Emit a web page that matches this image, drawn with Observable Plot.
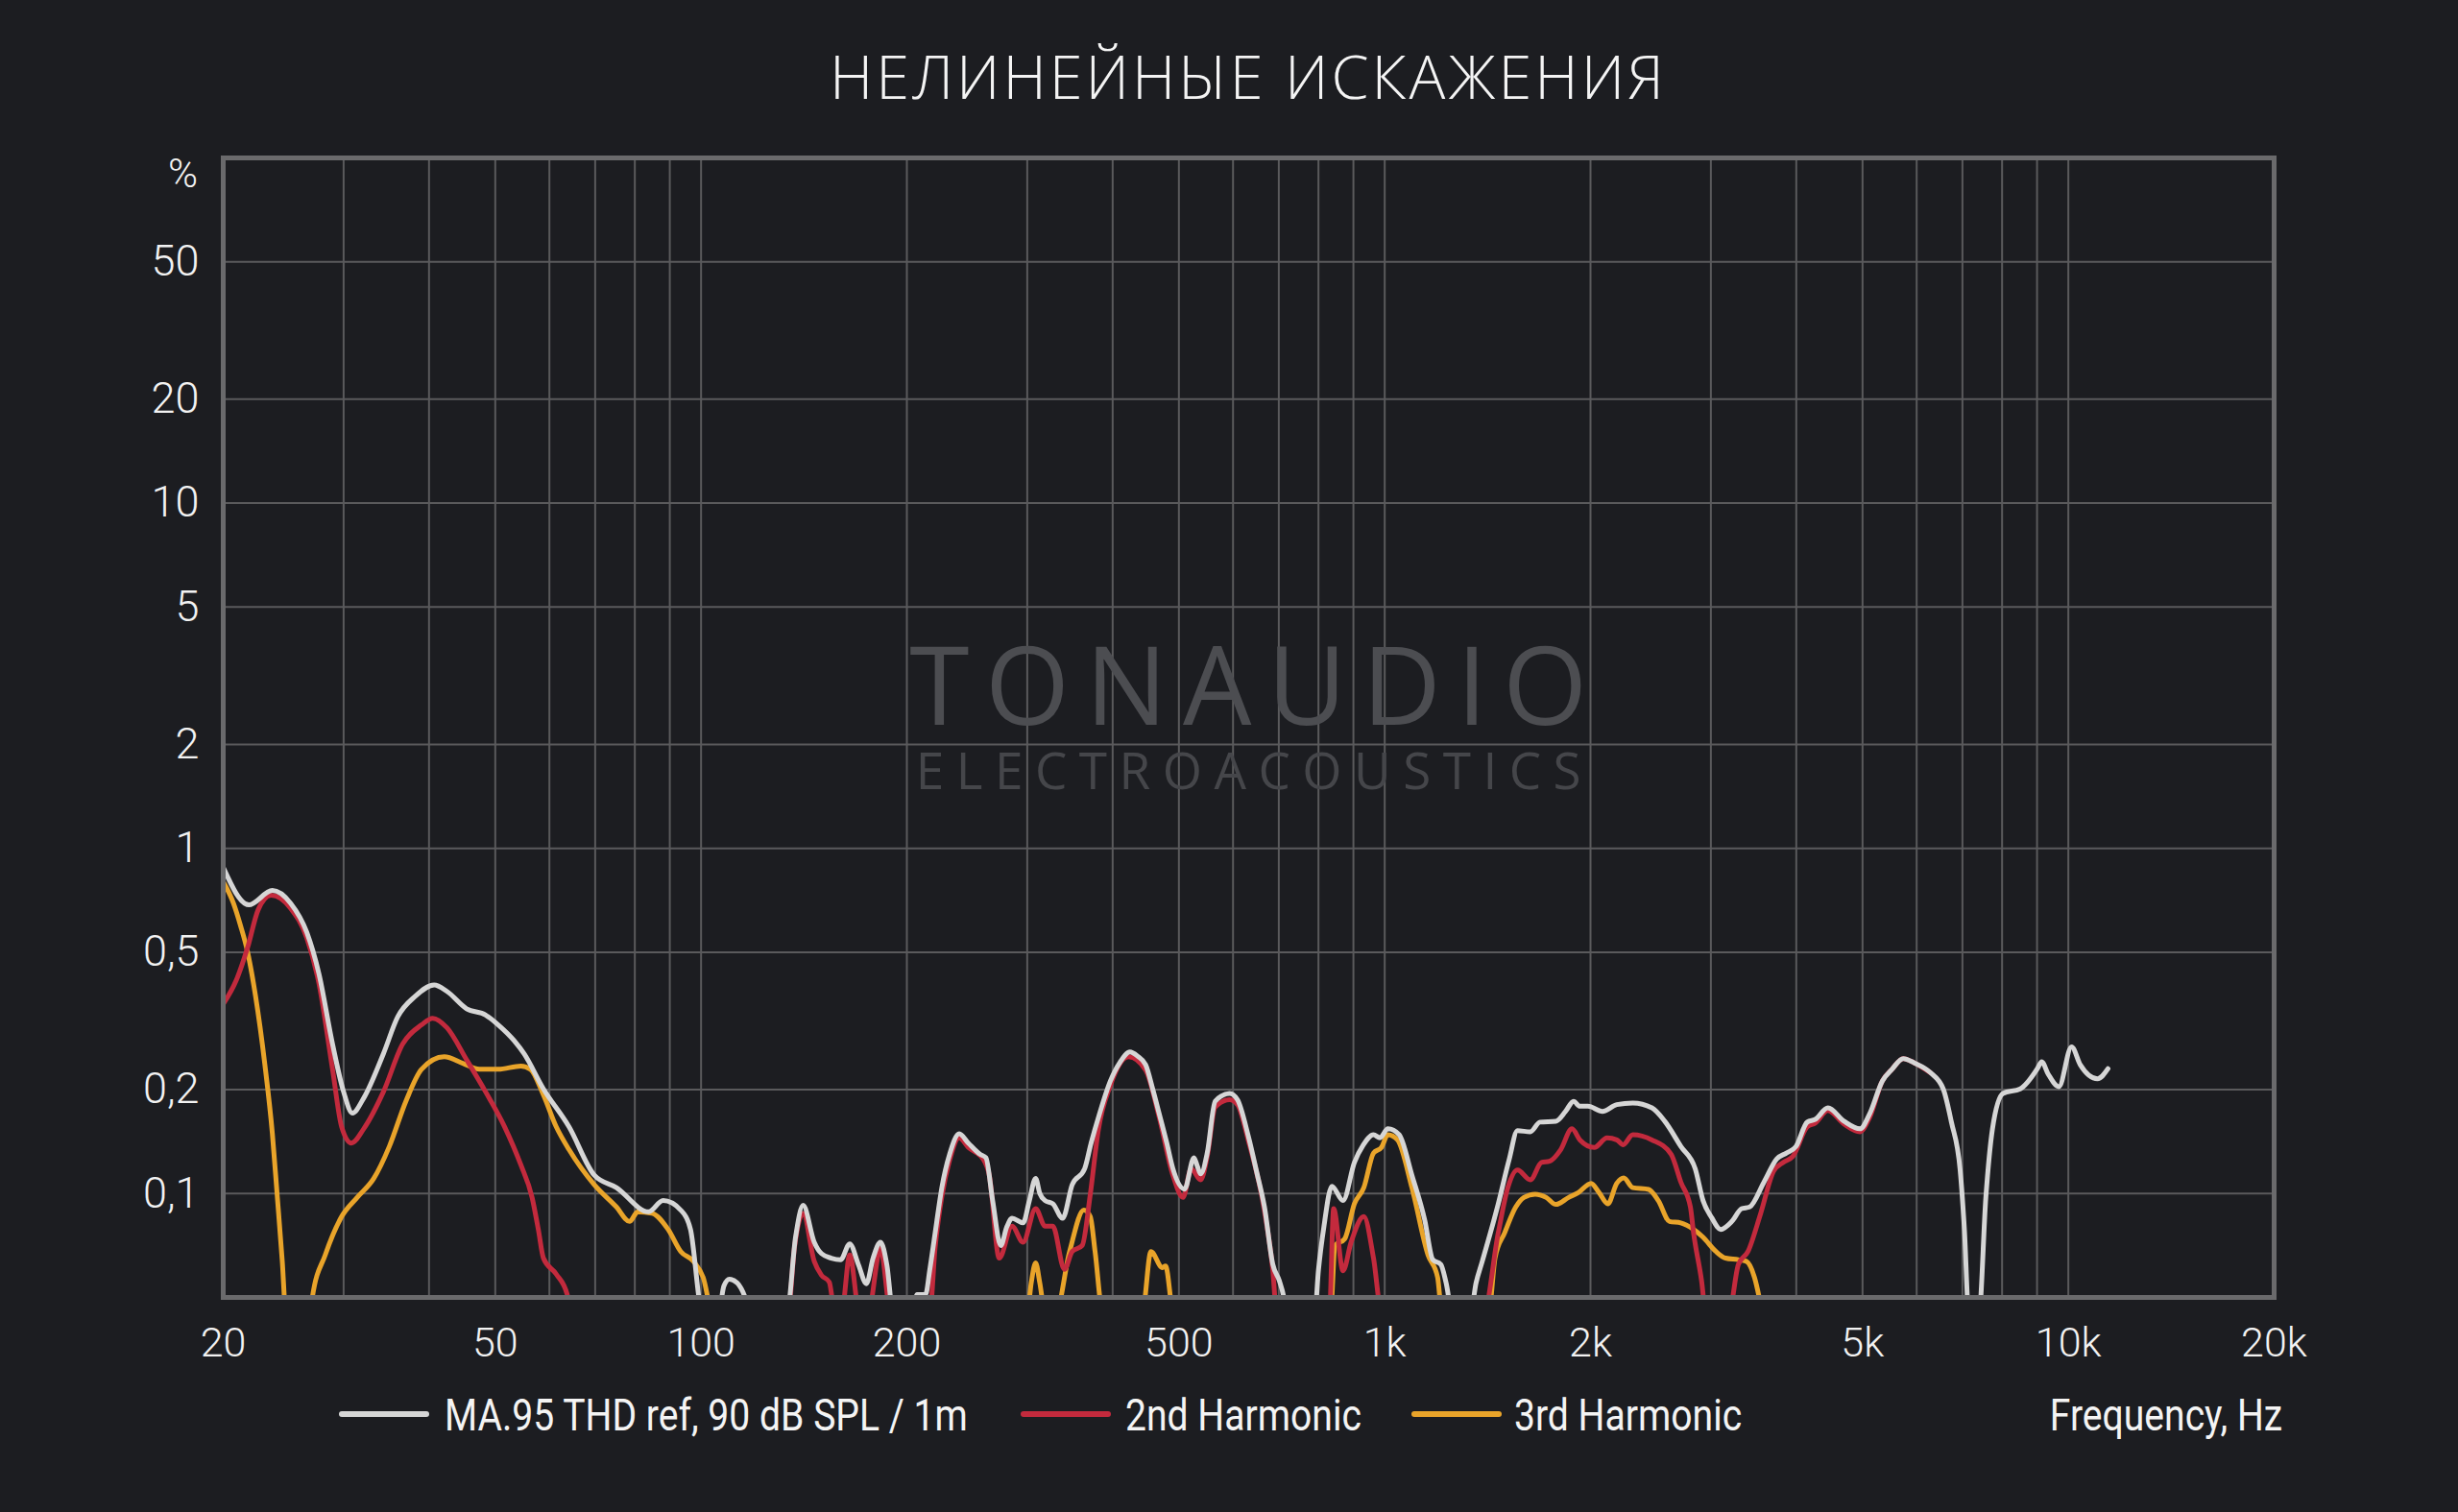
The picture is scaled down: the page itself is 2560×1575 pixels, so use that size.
<!DOCTYPE html>
<html><head><meta charset="utf-8">
<script src="https://cdn.jsdelivr.net/npm/d3@7"></script>
<script src="https://cdn.jsdelivr.net/npm/@observablehq/plot@0.6"></script>
<style>
html,body{margin:0;padding:0;background:#1c1d21;}
#wrap{position:relative;width:2560px;height:1575px;background:#1c1d21;overflow:hidden;font-family:Roboto,sans-serif;color:#f2f2f2;}
#title{position:absolute;left:0;width:2600px;top:47px;text-align:center;font-family:"Open Sans",sans-serif;font-weight:300;font-size:63px;line-height:63px;letter-spacing:3px;color:#f4f4f4;white-space:nowrap;}
#chart{position:absolute;left:0;top:140px;}
.sw{position:absolute;top:1470px;height:6px;border-radius:3px;}
.lt{position:absolute;top:1451px;font-size:46px;line-height:46px;font-weight:400;transform:scaleX(0.85);transform-origin:left center;white-space:nowrap;color:#f4f4f4;}
</style></head>
<body><div id="wrap">
<div id="title">НЕЛИНЕЙНЫЕ ИСКАЖЕНИЯ</div>
<div id="chart"></div>
<div id="legend"></div>
</div>
<script>
// ---- data ----
const thdFreq = [20,21.8,23.6,25.1,26.5,27.6,28.9,30.0,30.9,32.1,34.3,36.0,38.2,40.7,42.5,45.4,48.4,50.5,53.3,55.1,58.8,64.1,69.8,75.2,83.8,88.0,93.4,96.5,100.5,
  106,108,110,113,116,118,
  133.5,137.5,141,146.4,150,155,160,165,170,174.5,178.5,183,187,191,
  204,207,213,216,220,225,231,238.6,246,255.8,261,267,274.4,280,285,295.8,302,308.6,313,318.6,327,338,349,364,372,382.6,397,410,424,435,447,458,468,480,490,509.6,526,532,538,550,565,593,609,632,650,667,686,701,712,718,
  790,800,815,837,869,903,930,963,984,1011,1050,1096,1144,1176,1208,1230,1256,
  1335,1360,1389,1466,1520,1564,1633,1687,1780,1839,1889,1930,1983,2082,2185,2306,2460,2568,2711,2846,2922,3010,3101,3220,3327,3418,3588,3746,3869,3997,4150,4263,4450,4697,4958,5120,5346,5521,5734,5953,6284,6561,6745,6946,7047,7150,
  7400,7576,7745,8026,8506,9010,9141,9342,9685,10110,10410,11030,11430];
const thdVal = [0.88,0.686,0.755,0.693,0.571,0.434,0.271,0.197,0.171,0.189,0.254,0.325,0.373,0.402,0.385,0.343,0.329,0.308,0.277,0.254,0.201,0.156,0.113,0.104,0.0885,0.0954,0.0895,0.0787,0.045,
  0.045,0.054,0.0565,0.055,0.05,0.045,
  0.045,0.075,0.0924,0.0723,0.067,0.065,0.0643,0.0715,0.062,0.0548,0.065,0.0723,0.062,0.045,
  0.045,0.051,0.051,0.06,0.077,0.104,0.13,0.149,0.14,0.13,0.127,0.0954,0.0707,0.08,0.0848,0.0822,0.095,0.1107,0.1,0.0954,0.0934,0.0848,0.106,0.118,0.14,0.17,0.212,0.24,0.257,0.25,0.236,0.2,0.17,0.14,0.118,0.103,0.127,0.12,0.114,0.131,0.185,0.195,0.187,0.146,0.115,0.0914,0.0623,0.056,0.05,0.045,
  0.045,0.06,0.0804,0.105,0.0954,0.123,0.138,0.148,0.145,0.154,0.148,0.113,0.084,0.0643,0.0623,0.055,0.045,
  0.045,0.055,0.0636,0.0934,0.125,0.152,0.151,0.161,0.162,0.173,0.185,0.179,0.179,0.173,0.181,0.183,0.177,0.162,0.137,0.118,0.0954,0.085,0.0787,0.083,0.0904,0.0914,0.108,0.126,0.131,0.137,0.161,0.164,0.177,0.162,0.154,0.17,0.212,0.229,0.246,0.239,0.224,0.201,0.161,0.117,0.0785,0.045,
  0.045,0.0982,0.154,0.195,0.201,0.23,0.241,0.222,0.204,0.266,0.236,0.215,0.23];

const h2Freq = [20,20.9,21.7,22.5,23.5,25.1,26.5,27.6,28.9,29.8,30.8,32.1,34.3,36.6,39.0,40.5,42.5,45.4,48.4,51.6,54.5,56.6,57.8,58.8,61.4,63.7,64.5,
  134,137,141,146.4,150,154,157,160.5,165,170.5,175.5,183,189.5,
  216,220,225,231,238.6,246,258.5,264,273,285,295.8,308.6,318.6,327,340,349,361,371,381,397,422,447,468,490,507,521,538,550,565,593,609,632,667,686,695,
  830,842,869,893,932,963,990,
  1395,1466,1514,1564,1633,1696,1742,1809,1879,1930,2026,2115,2185,2233,2306,2460,2624,2711,2800,2830,2907,2950,
  3186,3291,3399,3548,3705,3826,3953,4150,4263,4450,4697,4958,5120,5346,5521,5734,5953,6284];
const h2Val = [0.354,0.415,0.514,0.664,0.731,0.67,0.55,0.407,0.229,0.156,0.14,0.154,0.197,0.271,0.308,0.322,0.302,0.244,0.197,0.156,0.121,0.0974,0.0787,0.065,0.0584,0.051,0.045,
  0.045,0.07,0.0876,0.0636,0.058,0.0554,0.045,0.045,0.0664,0.045,0.045,0.0693,0.045,
  0.045,0.07,0.098,0.125,0.145,0.136,0.126,0.113,0.065,0.0804,0.0723,0.0904,0.0804,0.0804,0.0603,0.0679,0.0707,0.0996,0.152,0.206,0.249,0.228,0.166,0.113,0.0974,0.118,0.1096,0.128,0.178,0.187,0.181,0.142,0.089,0.06,0.045,
  0.045,0.0904,0.0597,0.0723,0.0857,0.065,0.045,
  0.045,0.077,0.104,0.117,0.1096,0.123,0.124,0.134,0.154,0.143,0.136,0.145,0.143,0.1385,0.148,0.143,0.13,0.108,0.0914,0.077,0.056,0.045,
  0.045,0.0623,0.0679,0.0876,0.116,0.123,0.128,0.156,0.16,0.174,0.159,0.151,0.166,0.212,0.229,0.246,0.239,0.224];

const h3Freq = [20,20.7,21.2,21.7,22.3,23.0,23.6,24.0,24.4,24.7,
  26.8,27.0,28.2,29.8,31.4,33.2,35.0,37.0,39.0,42.1,44.9,47.4,50.5,54.5,56.3,58.8,61.4,64.1,69.8,75.2,78.6,80.8,84.8,89.5,93.4,97.5,100.7,104,
  300,304,308.6,313,318.6,
  330,346,363,371,377,387,
  442,455,473,478,491,
  833,846,874,903,932,963,989,1011,1044,1096,1157,1195,1213,
  1419,1450,1498,1555,1598,1660,1723,1780,1858,1919,2004,2059,2120,2185,2237,2306,2433,2513,2610,2711,2830,2922,3052,3152,3291,3381,3474,3568];
const h3Val = [0.80,0.693,0.597,0.503,0.373,0.238,0.149,0.0974,0.0636,0.045,
  0.045,0.05,0.0664,0.0857,0.0974,0.1105,0.137,0.185,0.229,0.249,0.238,0.229,0.229,0.234,0.229,0.193,0.156,0.134,0.106,0.0914,0.083,0.0885,0.0876,0.0787,0.0679,0.0636,0.0572,0.045,
  0.045,0.055,0.063,0.055,0.045,
  0.045,0.0679,0.0895,0.0857,0.0679,0.045,
  0.045,0.0679,0.061,0.0617,0.045,
  0.045,0.0707,0.0739,0.0934,0.104,0.131,0.136,0.148,0.143,0.104,0.0664,0.0572,0.045,
  0.045,0.065,0.077,0.0914,0.0974,0.0996,0.0974,0.093,0.0974,0.1006,0.107,0.1006,0.0934,0.107,0.111,0.104,0.1028,0.0954,0.083,0.0822,0.0787,0.0747,0.0679,0.065,0.0643,0.0636,0.0572,0.045];

const xTicks = [20,50,100,200,500,1000,2000,5000,10000,20000];
const xTickLabels = ["20","50","100","200","500","1k","2k","5k","10k","20k"];
const yTicks = [50,20,10,5,2,1,0.5,0.2,0.1];
const yTickLabels = ["50","20","10","5","2","1","0,5","0,2","0,1"];
const xGrid = [30,40,50,60,70,80,90,100,200,300,400,500,600,700,800,900,1000,2000,3000,4000,5000,6000,7000,8000,9000,10000];
const yGrid = [50,20,10,5,2,1,0.5,0.2,0.1];
const seriesNames = ["MA.95 THD ref, 90 dB SPL / 1m","2nd Harmonic","3rd Harmonic"];
const seriesColors = ["#d6d6d6","#c32a3d","#e9a42a"];
const watermark = ["TONAUDIO","ELECTROACOUSTICS"];

// ---- build ----
const toRows = (fs, vs) => fs.map((f, i) => ({f, v: vs[i]}));
const thd = toRows(thdFreq, thdVal), h2 = toRows(h2Freq, h2Val), h3 = toRows(h3Freq, h3Val);
const lineOpts = (c) => ({x: "f", y: "v", stroke: c, strokeWidth: 5, curve: "monotone-x", clip: true, strokeLinejoin: "round", strokeLinecap: "round"});

const chart = Plot.plot({
  width: 2560, height: 1290,
  marginTop: 24, marginLeft: 232, marginRight: 192, marginBottom: 79,
  style: {background: "transparent", color: "#f2f2f2", fontFamily: "Roboto, sans-serif", fontSize: "44px", fontWeight: 300},
  x: {type: "log", domain: [20, 20000], axis: null},
  y: {type: "log", domain: [0.05, 100], axis: null},
  marks: [
    Plot.ruleX(xGrid, {stroke: "#5a5a5c", strokeWidth: 2}),
    Plot.ruleY(yGrid, {stroke: "#5a5a5c", strokeWidth: 2}),
    Plot.text(xTicks, {x: d => d, text: (d, i) => xTickLabels[i], frameAnchor: "bottom", lineAnchor: "top", dy: 31, fontSize: 43, fill: "#f2f2f2"}),
    Plot.text(yTicks, {y: d => d, text: (d, i) => yTickLabels[i], frameAnchor: "left", textAnchor: "end", dx: -25, fontSize: 45, fill: "#f2f2f2"}),
    Plot.text([watermark.join("\n")], {frameAnchor: "middle", fill: "#4b4c50", fontSize: 53, fontFamily: "Open Sans, sans-serif", fontWeight: 400}),
    Plot.line(h3, lineOpts(seriesColors[2])),
    Plot.line(h2, lineOpts(seriesColors[1])),
    Plot.line(thd, lineOpts(seriesColors[0])),
    Plot.frame({stroke: "#6a6a6c", strokeWidth: 5}),
    Plot.text(["%"], {frameAnchor: "top-left", dx: -42, dy: 17, fontSize: 42, textAnchor: "middle", lineAnchor: "middle", fill: "#f2f2f2"})
  ]
});
// style the two watermark lines (one text element, two tspans)
chart.querySelectorAll("text").forEach(t => {
  if (t.textContent.startsWith(watermark[0])) {
    t.removeAttribute("dy"); t.removeAttribute("y");
    const sp = t.querySelectorAll("tspan");
    if (sp.length === 2) {
      [sp[0], sp[1]].forEach(s => { s.removeAttribute("dy"); });
      sp[0].setAttribute("x", "8"); sp[0].setAttribute("y", "-3.5");
      sp[0].style.fontSize = "113px"; sp[0].style.letterSpacing = "16.5px"; sp[0].style.fill = "#4c4d51";
      sp[1].setAttribute("x", "6"); sp[1].setAttribute("y", "63.5");
      sp[1].style.fontSize = "53px"; sp[1].style.letterSpacing = "12.5px"; sp[1].style.fill = "#45464a";
    }
  }
});
document.getElementById("chart").appendChild(chart);

// ---- legend ----
const lg = document.getElementById("legend");
const swX = [353, 1063, 1470], txX = [463, 1172, 1577];
seriesNames.forEach((n, i) => {
  const s = document.createElement("div");
  s.className = "sw"; s.style.left = swX[i] + "px"; s.style.width = "94px"; s.style.background = seriesColors[i];
  lg.appendChild(s);
  const t = document.createElement("div");
  t.className = "lt"; t.style.left = txX[i] + "px"; t.textContent = n;
  lg.appendChild(t);
});
const fx = document.createElement("div");
fx.className = "lt"; fx.style.right = "183px"; fx.style.transformOrigin = "right center"; fx.textContent = "Frequency, Hz";
lg.appendChild(fx);
</script>
</body></html>
